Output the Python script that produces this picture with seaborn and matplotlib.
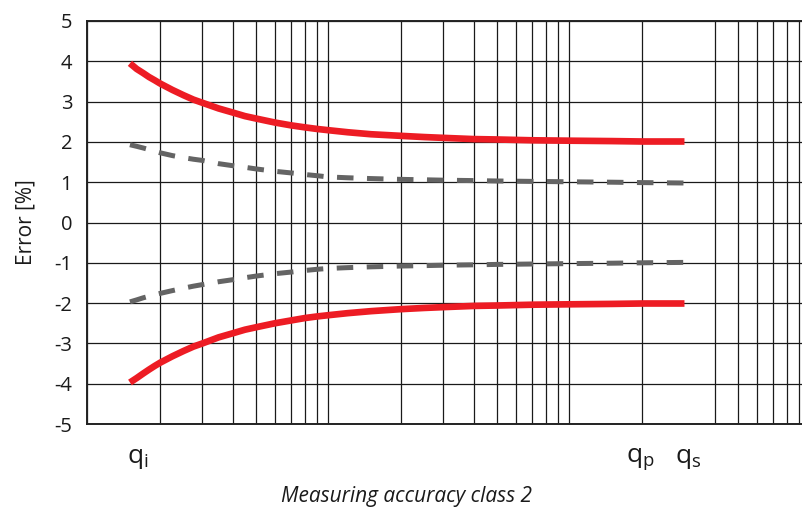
import numpy as np
import pandas as pd
import matplotlib
matplotlib.use("Agg")
import matplotlib.pyplot as plt
import matplotlib.ticker as mticker
import matplotlib.transforms as mtransforms
import seaborn as sns

# ---- data ----
flow = [1.5, 1.6, 1.7, 1.8, 1.9, 2, 2.25, 2.5, 2.75, 3, 3.5, 4, 4.5, 5, 6, 7, 8, 9,
        10, 12, 15, 20, 25, 30, 40, 50, 70, 100, 150, 200, 300]
red_upper = [3.95, 3.81, 3.71, 3.61, 3.53, 3.45, 3.29, 3.16, 3.05, 2.97, 2.83, 2.73,
             2.64, 2.58, 2.48, 2.41, 2.36, 2.32, 2.29, 2.24, 2.19, 2.15, 2.12, 2.10,
             2.07, 2.06, 2.04, 2.03, 2.02, 2.01, 2.01]
red_lower = [-3.97, -3.86, -3.75, -3.65, -3.56, -3.48, -3.32, -3.19, -3.08, -3.0,
             -2.85, -2.75, -2.66, -2.6, -2.5, -2.43, -2.37, -2.33, -2.3, -2.25, -2.2,
             -2.15, -2.12, -2.1, -2.07, -2.06, -2.04, -2.03, -2.02, -2.01, -2.01]
gray_upper = [1.93, 1.89, 1.85, 1.81, 1.77, 1.73, 1.66, 1.61, 1.57, 1.54, 1.46, 1.41,
              1.37, 1.33, 1.27, 1.23, 1.19, 1.16, 1.13, 1.11, 1.09, 1.07, 1.06, 1.05,
              1.04, 1.03, 1.02, 1.01, 1.0, 0.99, 0.98]
gray_lower = [-1.97, -1.92, -1.87, -1.83, -1.79, -1.76, -1.69, -1.63, -1.58, -1.54,
              -1.47, -1.42, -1.37, -1.33, -1.27, -1.23, -1.19, -1.16, -1.14, -1.12,
              -1.10, -1.08, -1.07, -1.06, -1.05, -1.04, -1.03, -1.02, -1.01, -1.0, -0.99]
y_ticks = [-5, -4, -3, -2, -1, 0, 1, 2, 3, 4, 5]
q_positions = [1.55, 190, 300]
q_labels = [r"$\mathregular{q_i}$", r"$\mathregular{q_p}$", r"$\mathregular{q_s}$"]

RED = "#ED1C24"
GRAY = "#646464"

sns.set_theme(style="white")
plt.rcParams["font.family"] = ["Open Sans", "DejaVu Sans"]

fig = plt.figure(figsize=(8.03, 5.14), dpi=100)
ax = fig.add_axes([87.5 / 803, 1 - 424 / 514, (803 - 87.5) / 803, (424 - 21) / 514])

df = pd.DataFrame({"flow": flow, "ru": red_upper, "rl": red_lower,
                   "gu": gray_upper, "gl": gray_lower})

for col in ["gu", "gl"]:
    sns.lineplot(data=df, x="flow", y=col, ax=ax, color=GRAY, lw=3.6,
                 dashes=False, zorder=3)
    ax.lines[-1].set_dashes((3.3, 2.7))
    ax.lines[-1].set_dash_capstyle("butt")
    ax.lines[-1].set_dash_joinstyle("round")
for col in ["ru", "rl"]:
    sns.lineplot(data=df, x="flow", y=col, ax=ax, color=RED, lw=4.8, zorder=4)
    ax.lines[-1].set_solid_capstyle("butt")
    ax.lines[-1].set_solid_joinstyle("round")

ax.set_xscale("log")
ax.set_xlim(1, 931)
ax.set_ylim(-5, 5)

# grid: all log decade lines as minor ticks
ax.xaxis.set_minor_locator(mticker.LogLocator(base=10, subs=np.arange(1, 10), numticks=50))
ax.xaxis.set_minor_formatter(mticker.NullFormatter())
ax.set_xticks(q_positions)
ax.set_xticklabels([])
ax.tick_params(axis="x", which="both", length=0)
ax.grid(False)
ax.grid(True, which="minor", axis="x", color="#1a1a1a", lw=0.9)
ax.set_yticks(y_ticks)
ax.set_yticklabels([str(v) for v in y_ticks], fontsize=14.5, color="#1a1a1a")
ax.tick_params(axis="y", length=0, pad=11)
ax.grid(True, which="major", axis="y", color="#1a1a1a", lw=0.9)

for s in ["left", "top", "bottom"]:
    ax.spines[s].set_color("#222222")
    ax.spines[s].set_linewidth(1.4)
ax.spines["right"].set_visible(False)

trans = mtransforms.blended_transform_factory(ax.transData, ax.transAxes)
for xq, lab in zip(q_positions, q_labels):
    ax.annotate(lab, xy=(xq, 0), xycoords=trans, xytext=(3, -16),
                textcoords="offset points", ha="center", va="top",
                fontsize=19, color="#1a1a1a")

ax.set_xlabel("Measuring accuracy class 2", fontsize=15, style="italic",
              color="#1a1a1a")
ax.xaxis.set_label_coords((407 - 87.5) / 715.5, -0.155)
ax.set_ylabel("Error [%]", fontsize=15, color="#1a1a1a", labelpad=13)

fig.savefig("out.png", dpi=100)
